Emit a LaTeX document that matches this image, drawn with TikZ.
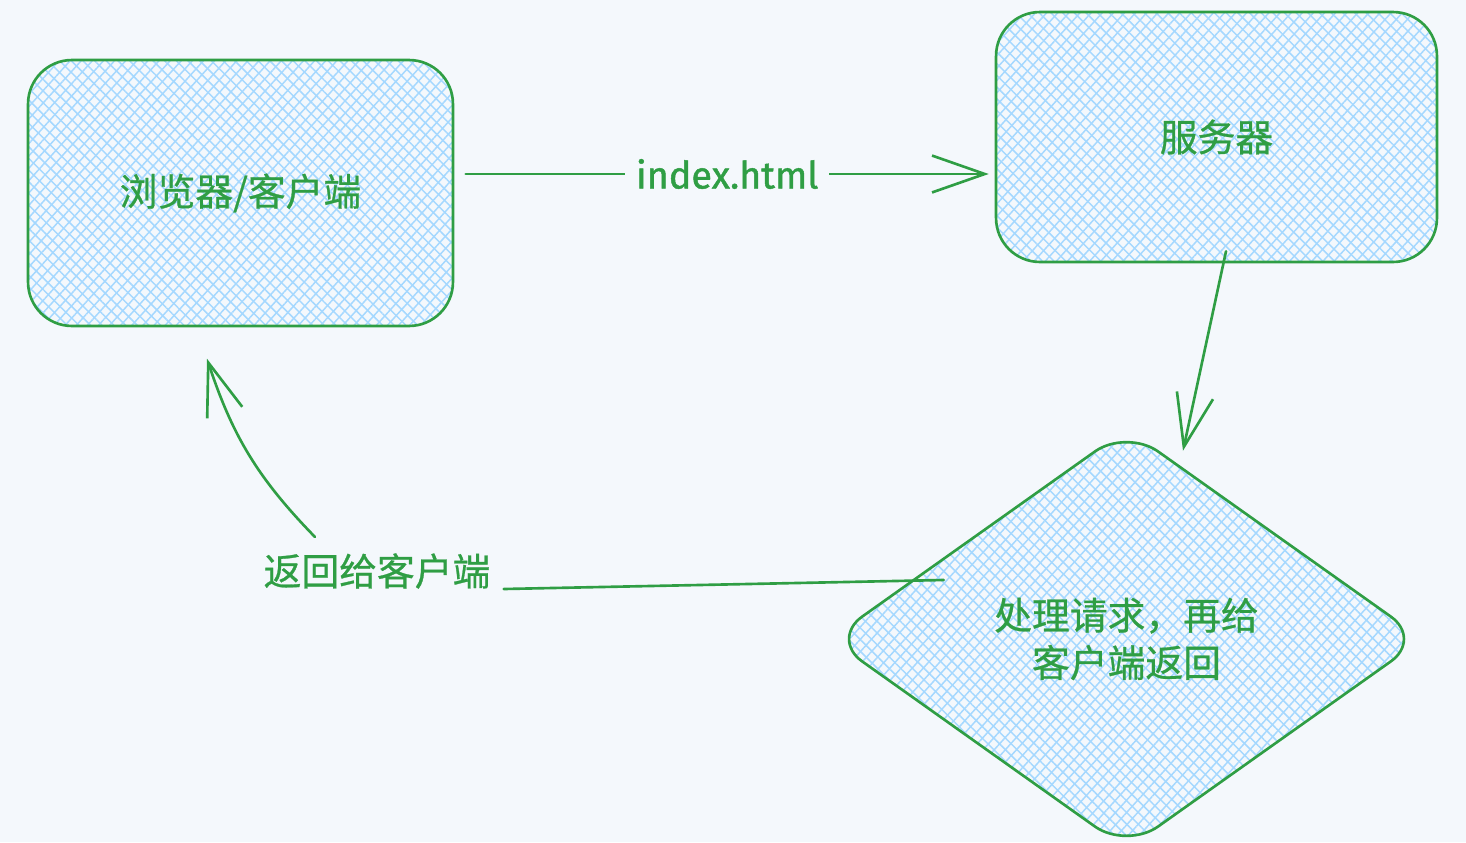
\documentclass[tikz,border=0pt]{standalone}
\usepackage{fontspec}
\newfontfamily\cjk[FakeBold=0.7]{Noto Sans CJK SC}
\newfontfamily\hand[FakeBold=1.2]{Fira Sans}
\usetikzlibrary{shapes.geometric,arrows.meta,patterns.meta}
\definecolor{bg}{HTML}{F4F8FC}
\definecolor{grn}{HTML}{2F9E44}
\definecolor{hatch}{HTML}{A5D8FF}
\tikzset{
  hatched/.style={pattern={Lines[angle=48,distance=4.7pt,line width=0.85pt]}, pattern color=hatch,
    preaction={pattern={Lines[angle=-45,distance=4.7pt,line width=0.85pt]}, pattern color=hatch}},
  cjktext/.style={text=grn, font=\cjk\fontsize{21.5pt}{27pt}\selectfont},
  boxnode/.style={draw=grn, line width=1.5pt, rounded corners=25pt, hatched, cjktext, inner sep=0pt},
  dianode/.style={shape=diamond, draw=grn, line width=1.5pt, rounded corners=22pt, hatched, cjktext, inner sep=0pt, align=center},
  conn/.style={draw=grn, line width=1.5pt, line cap=round, -{Straight Barb[length=30pt,width=21pt]}},
  lbl/.style={fill=bg, text=grn, inner xsep=6pt, inner ysep=2pt},
}
\begin{document}
\begin{tikzpicture}[x=0.02cm,y=-0.02cm]
  \fill[bg] (0,0) rectangle (1466,842);
  \useasboundingbox (0,0) rectangle (1466,842);

  \node[boxnode, minimum width=8.5cm, minimum height=5.32cm] (b1) at (240.5,193) {浏览器/客户端};
  \node[boxnode, minimum width=8.82cm, minimum height=5.0cm] (b2) at (1216.5,137) {服务器};
  \node[dianode, minimum width=11.86cm, minimum height=8.42cm] (d) at (1126.5,639) {处理请求，再给\\客户端返回};

  % browser -> server
  \draw[conn] ([shift={(12,-19)}]b1.east) -- node[lbl, font=\hand\fontsize{21.5pt}{26pt}\selectfont] (l1) {index.html} ([shift={(-6,37)}]b2.west);

  % server -> process
  \draw[conn] ([shift={(9.5,-12)}]b2.south) -- ([shift={(56.5,23.5)}]d.north);

  % process -> browser
  \node[cjktext, inner sep=0pt] (l2) at (377,571) {返回给客户端};
  \draw[draw=grn, line width=1.5pt, line cap=round] ([shift={(115,-59)}]d.west) -- ([shift={(13,18)}]l2.east);
  \draw[conn] ([shift={(-62,-34)}]l2.center) to[bend left=13] ([shift={(-33.5,32)}]b1.south);
\end{tikzpicture}
\end{document}
